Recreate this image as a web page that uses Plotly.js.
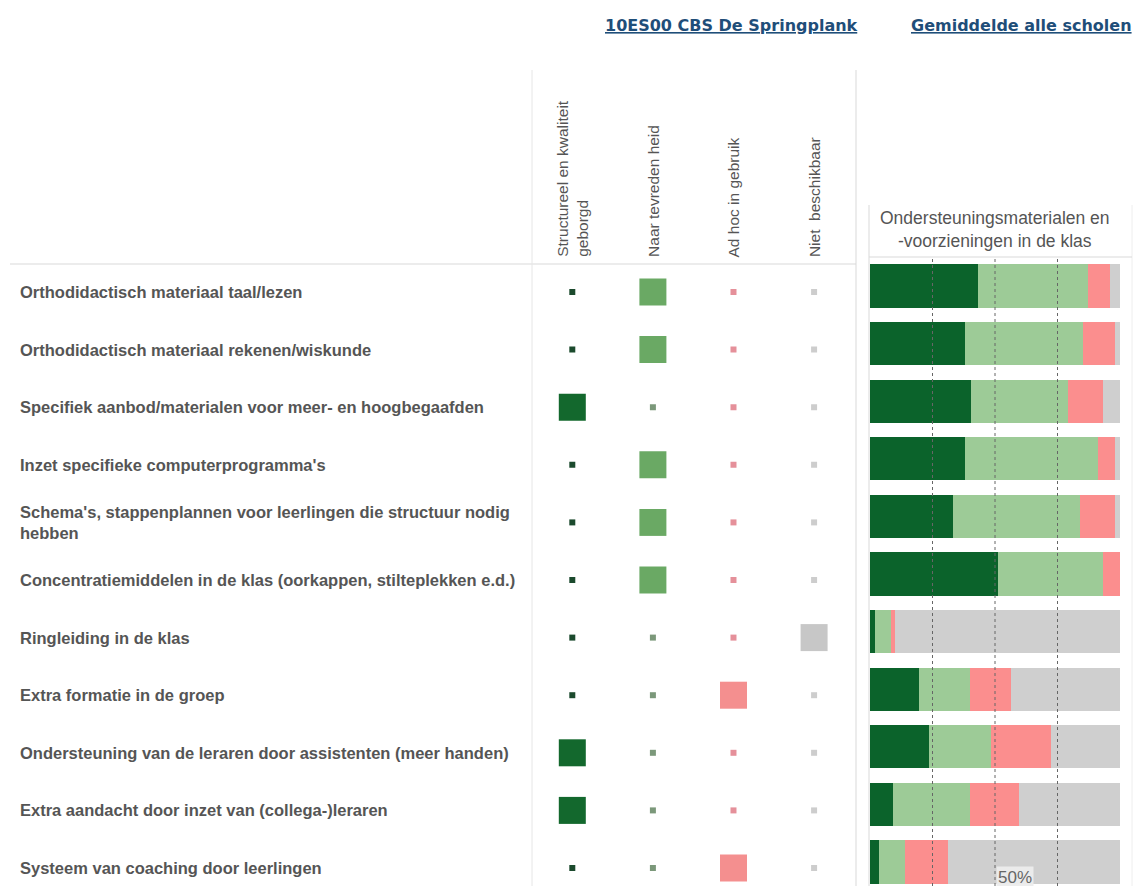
<!DOCTYPE html>
<html>
<head>
<meta charset="utf-8">
<script src="https://cdn.plot.ly/plotly-3.0.1.min.js"></script>
<style>html,body{margin:0;padding:0;background:#fff;}#chart{width:1137px;height:886px;}</style>
</head>
<body>
<div id="chart"></div>
<script>
// ---- data ----
const categories = [
  "Orthodidactisch materiaal taal/lezen",
  "Orthodidactisch materiaal rekenen/wiskunde",
  "Specifiek aanbod/materialen voor meer- en hoogbegaafden",
  "Inzet specifieke computerprogramma's",
  "Schema's, stappenplannen voor leerlingen die structuur nodig<br>hebben",
  "Concentratiemiddelen in de klas (oorkappen, stilteplekken e.d.)",
  "Ringleiding in de klas",
  "Extra formatie in de groep",
  "Ondersteuning van de leraren door assistenten (meer handen)",
  "Extra aandacht door inzet van (collega-)leraren",
  "Systeem van coaching door leerlingen"
];
const columnLabels = ["Structureel en kwaliteit<br>geborgd", "Naar tevreden heid", "Ad hoc in gebruik", "Niet  beschikbaar"];
const columnKeys = ["Structureel", "Naar tevredenheid", "Ad hoc", "Niet beschikbaar"];

// school answer (1 = chosen)
const schoolStructureel = [0,0,1,0,0,0,0,0,1,1,0];
const schoolNaarTevredenheid = [1,1,0,1,1,1,0,0,0,0,0];
const schoolAdHoc = [0,0,0,0,0,0,0,1,0,0,1];
const schoolNietBeschikbaar = [0,0,0,0,0,0,1,0,0,0,0];

// average all schools (%)
const avgStructureel = [43, 38, 40.5, 38, 33, 51, 2, 19.5, 23.5, 9, 3.5];
const avgNaarTevredenheid = [44, 47, 38.5, 53, 51, 42, 6.5, 20.5, 25, 31, 10.5];
const avgAdHoc = [9, 13, 14, 7, 14, 7, 1.5, 16.5, 24, 19.5, 17];
const avgNietBeschikbaar = [4, 2, 7, 2, 2, 0, 90, 43.5, 27.5, 40.5, 69];

const gridTicks = [25, 50, 75];
const panelTitle = "Ondersteuningsmaterialen en<br>-voorzieningen in de klas";
const headerSchool = "10ES00 CBS De Springplank";
const headerAvg = "Gemiddelde alle scholen";

// ---- helpers ----
const W = 1137, H = 886;
const px = x => x / W;
const py = y => 1 - y / H;
const rowIdx = categories.map((c, i) => i);

const barColors = ["#0b632b", "#9dcb97", "#fb8e8e", "#cfcfcf"];
const bigColors = ["#13682d", "#6aa964", "#f48f8f", "#c7c7c7"];
const smallColors = ["#1b4a2d", "#7b987a", "#e5909a", "#cdcdcd"];
const schoolSeries = [schoolStructureel, schoolNaarTevredenheid, schoolAdHoc, schoolNietBeschikbaar];
const avgSeries = [avgStructureel, avgNaarTevredenheid, avgAdHoc, avgNietBeschikbaar];

const traces = [];
avgSeries.forEach((vals, k) => {
  traces.push({
    type: "bar", orientation: "h", x: vals, y: rowIdx,
    xaxis: "x2", yaxis: "y2", name: columnKeys[k],
    marker: {color: barColors[k], line: {width: 0}},
    hoverinfo: "x", showlegend: false
  });
});
schoolSeries.forEach((vals, k) => {
  traces.push({
    type: "scatter", mode: "markers",
    x: vals.map(() => columnKeys[k]), y: rowIdx,
    xaxis: "x3", yaxis: "y3",
    marker: {symbol: "square", size: vals.map(v => v ? 27 : 6), opacity: 1,
             color: vals.map(v => v ? bigColors[k] : smallColors[k]), line: {width: 0}},
    hoverinfo: "skip", showlegend: false
  });
});

const font = "Liberation Sans, Arial, sans-serif";
const annotations = [];
categories.forEach((c, i) => {
  annotations.push({
    text: c, xref: "paper", x: px(18), xanchor: "left", yref: "y3", y: i, yanchor: "middle",
    showarrow: false, align: "left",
    font: {family: font, size: 16.5, color: "#555555", weight: "bold"}
  });
});
columnLabels.forEach((c, k) => {
  annotations.push({
    text: c, xref: "x3", x: columnKeys[k], xanchor: "center", yref: "paper", y: py(259), yanchor: "bottom",
    textangle: -90, showarrow: false, align: "left",
    font: {family: font, size: 15.5, color: "#555555"}
  });
});
annotations.push({
  text: panelTitle, xref: "x2", x: 50, xanchor: "center", yref: "paper", y: py(229), yanchor: "middle",
  showarrow: false, align: "center", font: {family: font, size: 17.5, color: "#555555"}
});
annotations.push({
  text: "<u>" + headerSchool + "</u>", xref: "paper", x: px(731), xanchor: "center", yref: "paper", y: py(25), yanchor: "middle",
  showarrow: false, font: {family: "DejaVu Sans, Verdana, sans-serif", size: 16, color: "#1f4e79", weight: "bold"}
});
annotations.push({
  text: "<u>" + headerAvg + "</u>", xref: "paper", x: px(1021), xanchor: "center", yref: "paper", y: py(25), yanchor: "middle",
  showarrow: false, font: {family: "DejaVu Sans, Verdana, sans-serif", size: 16, color: "#1f4e79", weight: "bold"}
});
annotations.push({
  text: "50%", xref: "x2", x: 50, xanchor: "left", xshift: 1, yref: "paper", y: 0, yanchor: "bottom", yshift: -3,
  showarrow: false, bgcolor: "rgba(236,236,236,0.95)", borderpad: 1,
  font: {family: font, size: 17, color: "#666666"}
});

const shapes = [];
gridTicks.forEach(t => {
  shapes.push({type: "line", xref: "x2", x0: t, x1: t, yref: "paper", y0: 0, y1: py(258),
    line: {color: "#666666", width: 1, dash: "dot"}, layer: "above"});
});
const gray = "#d9d9d9";
shapes.push({type: "line", xref: "paper", yref: "paper", x0: px(10), x1: px(856), y0: py(264), y1: py(264), line: {color: gray, width: 1}});
shapes.push({type: "line", xref: "paper", yref: "paper", x0: px(532), x1: px(532), y0: py(70), y1: 0, line: {color: "#e6e6e6", width: 1}});
shapes.push({type: "line", xref: "paper", yref: "paper", x0: px(856), x1: px(856), y0: py(70), y1: 0, line: {color: gray, width: 1}});
shapes.push({type: "line", xref: "paper", yref: "paper", x0: px(869), x1: px(869), y0: py(205), y1: 0, line: {color: gray, width: 1}});
shapes.push({type: "line", xref: "paper", yref: "paper", x0: px(1132), x1: px(1132), y0: py(205), y1: 0, line: {color: "#eeeeee", width: 1}});
shapes.push({type: "line", xref: "paper", yref: "paper", x0: px(869), x1: px(1132), y0: py(257), y1: py(257), line: {color: gray, width: 1}});

const layout = {
  width: W, height: H,
  margin: {l: 0, r: 0, t: 0, b: 0},
  paper_bgcolor: "#ffffff", plot_bgcolor: "rgba(0,0,0,0)",
  barmode: "stack", bargap: 0.25,
  showlegend: false,
  xaxis2: {domain: [px(870), px(1120)], range: [0, 100], showgrid: false, zeroline: false,
           showticklabels: false, fixedrange: true, anchor: "y2"},
  yaxis2: {domain: [0, py(257.2)], range: [(886 - 286) / 57.6, -0.5], showgrid: false, zeroline: false,
           showticklabels: false, fixedrange: true, anchor: "x2"},
  xaxis3: {domain: [px(532), px(856)], range: [-0.5, 3.52], type: "category", categoryarray: columnKeys,
           showgrid: false, zeroline: false, showticklabels: false, fixedrange: true, anchor: "y3"},
  yaxis3: {domain: [0, py(263.2)], range: [(886 - 292) / 57.6, -0.5], showgrid: false, zeroline: false,
           showticklabels: false, fixedrange: true, anchor: "x3"},
  annotations: annotations,
  shapes: shapes
};

Plotly.newPlot("chart", traces, layout, {displayModeBar: false, staticPlot: true});
</script>
</body>
</html>
